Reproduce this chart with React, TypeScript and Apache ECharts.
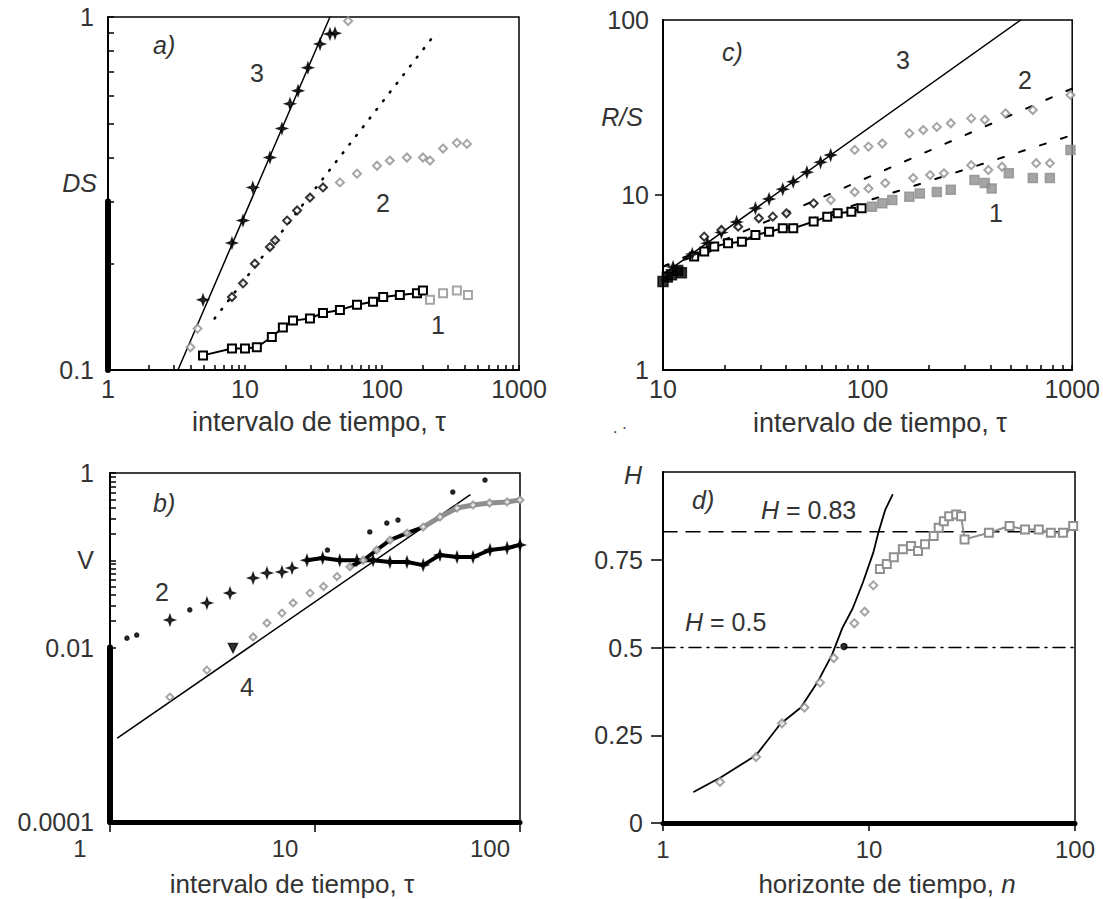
import React, { useEffect, useRef } from "react";
import * as echarts from "echarts";

const FONT = "'Liberation Sans', Arial, Helvetica, sans-serif";
const INK = "#000";
const TXT = "#333";
const GRAY = "#8f8f8f";

// ---------- Panel a) DS vs tau ----------
const aLine3Tau = [3.24, 41.7];
const aLine3Ds = [0.1, 1.0];
const aTau3 = [4.94, 8.03, 9.67, 11.4, 15.2, 18.6, 21.3, 24.4, 28.8, 35.3, 41.7, 45.4];
const aDs3 = [0.158, 0.229, 0.265, 0.329, 0.4, 0.483, 0.568, 0.618, 0.718, 0.839, 0.895, 0.9];
const aTau3Gray = [4.0, 4.5, 56.6];
const aDs3Gray = [0.116, 0.131, 0.974];
const aDotTau = [6.0, 244];
const aDotDs = [0.14, 0.895];
const aTau2 = [8.03, 9.67, 11.8, 15.2, 16.6, 20.3, 24.0, 29.8, 37.1];
const aDs2 = [0.161, 0.176, 0.2, 0.223, 0.233, 0.265, 0.283, 0.308, 0.329];
const aTau2Gray = [49.3, 65.7, 92, 114, 152, 199, 224, 279, 352, 417];
const aDs2Gray = [0.34, 0.36, 0.379, 0.392, 0.4, 0.4, 0.392, 0.424, 0.44, 0.437];
const aTau1 = [4.94, 8.03, 10.0, 12.2, 15.7, 18.9, 22.4, 29.8, 37.1, 49.3, 65.7, 86, 102, 135, 180, 199];
const aDs1 = [0.11, 0.115, 0.115, 0.116, 0.124, 0.132, 0.138, 0.14, 0.145, 0.148, 0.153, 0.156, 0.161, 0.163, 0.165, 0.168];
const aTau1Gray = [224, 279, 352, 424];
const aDs1Gray = [0.158, 0.165, 0.168, 0.163];

// ---------- Panel c) R/S vs tau ----------
const cLine3Tau = [10, 560];
const cLine3Rs = [3.52, 100];
const cDashUpTau = [10, 1000];
const cDashUpRs = [3.9, 40.6];
const cDashLoTau = [10, 1000];
const cDashLoRs = [3.9, 22];
const cTau3 = [11.2, 13.9, 16.5, 19.3, 22.9, 28.3, 33, 38.5, 43.3, 50.5, 58.9, 66];
const cRs3 = [3.88, 4.6, 5.3, 6.1, 7.0, 8.4, 9.5, 10.8, 11.9, 13.5, 15.4, 16.9];
const cTau3Gray = [86.5, 101, 118, 160, 187, 218, 255, 321, 374, 472, 642, 981];
const cRs3Gray = [18.1, 18.9, 19.7, 22.5, 23.5, 24.5, 25.7, 27.4, 26.9, 29.3, 30.6, 37.3];
const cTau2 = [15.9, 19.3, 23.3, 29.4, 34.4, 40.1, 54.5];
const cRs2 = [5.78, 6.31, 6.59, 7.36, 7.52, 7.86, 8.96];
const cTau2Gray = [66.1, 86.5, 101, 122, 167, 202, 236, 321, 389, 454, 667, 778];
const cRs2Gray = [9.36, 10.4, 10.9, 11.7, 12.5, 13.0, 13.3, 14.8, 13.9, 14.5, 15.2, 15.2];
const cTau1 = [14.2, 15.9, 17.8, 20.8, 24.3, 28.3, 33, 38.5, 43.3, 54.5, 63.5, 71.4, 83.3, 93.5];
const cRs1 = [4.45, 4.75, 5.07, 5.3, 5.41, 5.91, 6.17, 6.45, 6.45, 7.05, 7.52, 7.86, 8.03, 8.39];
const cTau1Gray = [105, 118, 132, 160, 180, 218, 255, 333, 374, 404, 490, 642, 778, 981];
const cRs1Gray = [8.58, 8.96, 9.36, 9.78, 10.2, 10.4, 10.7, 12.2, 11.7, 10.9, 13.3, 12.5, 12.5, 18.1];
const cTau0 = [9.6, 10, 10.5, 11, 11.8, 12.3];
const cRs0 = [2.9, 3.2, 3.4, 3.5, 3.7, 3.6];

// ---------- Panel b) V vs tau ----------
const bLine4Tau = [1.09, 57];
const bLine4V = [0.00092, 0.56];
const bTau2 = [1.96, 2.97, 3.85, 4.99, 5.83, 6.9, 7.73, 9.14, 10.9, 13.2, 16, 19.2, 23.2, 28.1, 33.7, 40.7, 49.3, 59, 71.4, 86.5, 100];
const bV2 = [0.0207, 0.0324, 0.042, 0.0626, 0.0714, 0.0733, 0.0815, 0.1, 0.106, 0.1, 0.1, 0.1, 0.0955, 0.0955, 0.088, 0.115, 0.109, 0.109, 0.131, 0.138, 0.15];
const bDotTau = [1.21, 1.35, 2.45, 11.5, 18.5, 22.4, 25.4, 47, 67.5];
const bDotV = [0.0128, 0.0139, 0.027, 0.131, 0.211, 0.267, 0.289, 0.605, 0.83];
const bTau4 = [1.96, 2.97, 4.99, 5.83, 6.9, 7.82, 9.46, 11, 12.8, 14.8, 17.2, 20, 23.2, 28.1, 33.7, 40.7, 49.3, 59, 71, 86.5, 100];
const bV4 = [0.0027, 0.0055, 0.0132, 0.0191, 0.0248, 0.0324, 0.042, 0.05, 0.065, 0.084, 0.1, 0.131, 0.17, 0.205, 0.24, 0.313, 0.397, 0.43, 0.453, 0.466, 0.49];
const bTriTau = [3.98];
const bTriV = [0.00986];

// ---------- Panel d) H vs n ----------
const dRefH = [0.83, 0.5];
const dLineN = [1.415, 1.93, 2.83, 3.71, 4.67, 5.66, 6.61, 7.42, 8.33, 9.35, 10.5, 11.1, 12, 13];
const dLineH = [0.089, 0.132, 0.193, 0.282, 0.329, 0.404, 0.479, 0.555, 0.611, 0.686, 0.771, 0.827, 0.893, 0.935];
const dDiaN = [1.89, 2.83, 3.78, 4.86, 5.78, 6.74, 8.49, 9.53, 10.5];
const dDiaH = [0.117, 0.188, 0.284, 0.329, 0.4, 0.47, 0.569, 0.602, 0.677];
const dDotN = [7.56];
const dDotH = [0.503];
const dSqN = [11.3, 12.2, 13.2, 14.6, 16.0, 17.3, 18.7, 20.6, 21.8, 23.1, 24.5, 26.5, 28, 29.1, 38.2, 48.1, 57.2, 66.7, 76.3, 87.4, 98];
const dSqH = [0.724, 0.738, 0.757, 0.78, 0.789, 0.775, 0.794, 0.818, 0.841, 0.86, 0.874, 0.879, 0.874, 0.808, 0.827, 0.846, 0.836, 0.836, 0.827, 0.827, 0.846];

const L = Math.log10;
const ll = (xs: number[], ys: number[]) => xs.map((x, i) => [L(x), L(ys[i])]);
const lx = (xs: number[], ys: number[]) => xs.map((x, i) => [L(x), ys[i]]);

const minorLog = (from: number, to: number) => {
  const out: number[] = [];
  for (let e = from; e < to; e++) for (let k = 1; k < 10; k++) out.push(e + L(k));
  out.push(to);
  return out;
};

const POW: Record<string, string> = {
  "-4": "0.0001", "-3": "0.001", "-2": "0.01", "-1": "0.1",
  "0": "1", "1": "10", "2": "100", "3": "1000",
};
const fmtLog = (v: number) => POW[String(Math.round(v))] ?? "";

const lab = { color: TXT, fontFamily: FONT, fontSize: 25, showMinLabel: true, showMaxLabel: true };

const STAR = "path://M5,0L6.3,3.7L10,5L6.3,6.3L5,10L3.7,6.3L0,5L3.7,3.7Z";

function axis(grid: number, min: number, max: number, o: any) {
  return {
    type: "value", gridIndex: grid, min, max,
    axisLine: { show: true, onZero: false, lineStyle: { color: INK, width: o.lineW ?? 2 } },
    axisTick: {
      show: true, inside: o.inside ?? false, length: o.tickLen ?? 6,
      customValues: o.ticks, lineStyle: { color: INK, width: 1.5 },
    },
    axisLabel: {
      ...lab, fontSize: o.fontSize ?? 25, margin: o.margin ?? 8, customValues: o.labels,
      formatter: o.fmt ?? fmtLog, padding: o.padding ?? 0,
    },
    splitLine: { show: false },
  };
}

function sc(xi: number, data: number[][], symbol: string, size: number, color: string, extra: any = {}) {
  return {
    type: "scatter", xAxisIndex: xi, yAxisIndex: xi, data, symbol, symbolSize: size,
    itemStyle: { color, borderColor: color, borderWidth: 1.5 }, silent: true, z: 4, ...extra,
  };
}
function ln(xi: number, data: number[][], color: string, width: number, type: any = "solid", extra: any = {}) {
  return {
    type: "line", xAxisIndex: xi, yAxisIndex: xi, data, symbol: "none", silent: true,
    lineStyle: { color, width, type, cap: "round" }, z: 3, ...extra,
  };
}

function txt(x: number, y: number, text: string, o: any = {}) {
  return {
    type: "text", x, y, z: 100, silent: true,
    style: {
      text, fill: TXT, fontFamily: FONT, fontSize: o.size ?? 25, fontStyle: o.italic ? "italic" : "normal",
      align: o.align ?? "center", verticalAlign: "middle", rich: o.rich,
    },
  };
}

export default function App() {
  const ref = useRef<HTMLDivElement>(null);
  useEffect(() => {
    if (!ref.current) return;
    const chart = echarts.init(ref.current, undefined, { renderer: "svg" });
    const richH = {
      i: { fontStyle: "italic", fontFamily: FONT, fontSize: 25, fill: TXT },
      n: { fontFamily: FONT, fontSize: 25, fill: TXT },
    };
    const option: any = {
      animation: false,
      backgroundColor: "#fff",
      grid: [
        { left: 108, top: 17, width: 411, height: 353, show: true, borderColor: INK, borderWidth: 1.5 },
        { left: 663, top: 20, width: 412, height: 350, show: true, borderColor: INK, borderWidth: 1.5 },
        { left: 110, top: 473, width: 410, height: 349, show: true, borderColor: INK, borderWidth: 1.5 },
        { left: 663, top: 472, width: 412, height: 351, show: true, borderColor: INK, borderWidth: 1.5 },
      ],
      xAxis: [
        axis(0, 0, 3, { inside: true, tickLen: 5, ticks: minorLog(0, 3), labels: [0, 1, 2, 3], margin: 6 }),
        axis(1, 1, 3, { inside: true, tickLen: 5, ticks: minorLog(1, 3), labels: [1, 2, 3], margin: 6 }),
        axis(2, 0, 2, { lineW: 5, tickLen: 10, ticks: [0, 1, 2], labels: [0, 1, 2], margin: 14, fontSize: 24, padding: [0, 60, 0, 0] }),
        axis(3, 0, 2, { lineW: 5, tickLen: 8, ticks: [0, 1, 2], labels: [0, 1, 2], margin: 14, fontSize: 24 }),
      ],
      yAxis: [
        axis(0, -1, 0, { inside: true, tickLen: 6, ticks: minorLog(-1, 0), labels: [-1, 0], margin: 14 }),
        axis(1, 0, 2, { tickLen: 8, ticks: [1], labels: [0, 1, 2], margin: 14 }),
        axis(2, -4, 0, {
          inside: true, tickLen: 6, ticks: minorLog(-2, 0), labels: [-4, -2, -1, 0], margin: 16,
          fmt: (v: number) => (Math.round(v) === -1 ? "V" : fmtLog(v)),
        }),
        axis(3, 0, 1, {
          tickLen: 12, ticks: [0, 0.25, 0.5, 0.75], labels: [0, 0.25, 0.5, 0.75], margin: 20,
          fmt: (v: number) => String(v),
        }),
      ],
      series: [
        // ----- a -----
        ln(0, [[0, L(0.3)], [0, -1]], INK, 6, "solid", { clip: false, z: 6 }),
        ln(0, ll(aLine3Tau, aLine3Ds), INK, 1.5),
        ln(0, ll(aDotTau, aDotDs), INK, 2.5, [1, 10]),
        sc(0, ll(aTau3, aDs3), STAR, 10, INK),
        sc(0, ll(aTau3Gray, aDs3Gray), "emptyDiamond", 8, GRAY),
        sc(0, ll(aTau2, aDs2), "emptyDiamond", 8, INK),
        sc(0, ll(aTau2Gray, aDs2Gray), "emptyDiamond", 8, GRAY),
        ln(0, ll(aTau1, aDs1), INK, 2, "solid", { symbol: "emptyRect", showSymbol: true, symbolSize: 8, itemStyle: { color: INK, borderWidth: 1.5 } }),
        sc(0, ll(aTau1Gray, aDs1Gray), "emptyRect", 8, GRAY, { itemStyle: { color: GRAY, borderColor: GRAY, borderWidth: 2.5 } }),
        // ----- c -----
        ln(1, ll(cLine3Tau, cLine3Rs), INK, 1.5),
        ln(1, ll(cDashUpTau, cDashUpRs), INK, 2, [6, 16]),
        ln(1, ll(cDashLoTau, cDashLoRs), INK, 2, [6, 16]),
        sc(1, ll(cTau3, cRs3), STAR, 10, INK),
        sc(1, ll(cTau3Gray, cRs3Gray), "emptyDiamond", 8, GRAY),
        sc(1, ll(cTau2, cRs2), "emptyDiamond", 8, INK),
        sc(1, ll(cTau2Gray, cRs2Gray), "emptyDiamond", 8, GRAY),
        ln(1, ll(cTau1, cRs1), INK, 2, "solid", { symbol: "emptyRect", showSymbol: true, symbolSize: 8, itemStyle: { color: INK, borderWidth: 1.5 } }),
        sc(1, ll(cTau1Gray, cRs1Gray), "rect", 9, GRAY),
        sc(1, ll(cTau0, cRs0), "rect", 10, INK),
        // ----- b -----
        ln(2, [[0, -2], [0, -4]], INK, 6, "solid", { clip: false, z: 6 }),
        ln(2, ll(bLine4Tau, bLine4V), INK, 1.5),
        sc(2, ll(bDotTau, bDotV), "circle", 4, INK),
        sc(2, ll(bTau2, bV2), STAR, 10, INK),
        ln(2, ll(bTau2.slice(7), bV2.slice(7)), INK, 4),
        sc(2, ll(bTau4, bV4), "emptyDiamond", 7, GRAY),
        ln(2, ll(bTau4.slice(9, 15), bV4.slice(9, 15)), INK, 4),
        ln(2, ll(bTau4.slice(14), bV4.slice(14)), GRAY, 5),
        sc(2, ll(bTriTau, bTriV), "triangle", 9, INK, { symbolRotate: 180 }),
        // ----- d -----
        ln(3, [[0, dRefH[0]], [2, dRefH[0]]], INK, 1.5, [14, 9]),
        ln(3, [[0, dRefH[1]], [2, dRefH[1]]], INK, 1.5, [12, 6, 2, 6]),
        ln(3, lx(dLineN, dLineH), INK, 1.8),
        sc(3, lx(dDiaN, dDiaH), "emptyDiamond", 8, GRAY),
        sc(3, lx(dDotN, dDotH), "circle", 6, INK),
        ln(3, lx(dSqN, dSqH), GRAY, 2, "solid", { symbol: "emptyRect", showSymbol: true, symbolSize: 8, itemStyle: { color: GRAY, borderWidth: 2 } }),
      ],
      graphic: [
        txt(319, 422, "intervalo de tiempo, τ", { size: 27 }),
        txt(880, 423, "intervalo de tiempo, τ", { size: 27 }),
        txt(292, 884, "intervalo de tiempo, τ", { size: 26 }),
        txt(887, 884, "{n|horizonte de tiempo, }{i|n}", {
          size: 26,
          rich: { n: { ...richH.n, fontSize: 26 }, i: { ...richH.i, fontSize: 26 } },
        }),
        txt(97, 183, "DS", { italic: true, align: "right" }),
        txt(643, 117, "R/S", { italic: true, align: "right" }),
        txt(642, 475, "H", { italic: true, align: "right" }),
        txt(153, 45, "a)", { italic: true, align: "left" }),
        txt(153, 503, "b)", { italic: true, align: "left" }),
        txt(722, 52, "c)", { italic: true, align: "left" }),
        txt(692, 500, "d)", { italic: true, align: "left" }),
        txt(257, 73, "3"),
        txt(383, 203, "2"),
        txt(438, 325, "1"),
        txt(903, 60, "3"),
        txt(1025, 80, "2"),
        txt(996, 213, "1"),
        txt(162, 592, "2"),
        txt(247, 687, "4"),
        txt(761, 510, "{i|H}{n| = 0.83}", { align: "left", rich: richH }),
        txt(685, 622, "{i|H}{n| = 0.5}", { align: "left", rich: richH }),
        txt(620, 427, ". ·", { size: 16 }),
      ],
    };
    chart.setOption(option);
    return () => chart.dispose();
  }, []);
  return (
    <div
      ref={ref}
      style={{ position: "absolute", left: 0, top: 0, width: 1103, height: 899, background: "#fff" }}
    />
  );
}
